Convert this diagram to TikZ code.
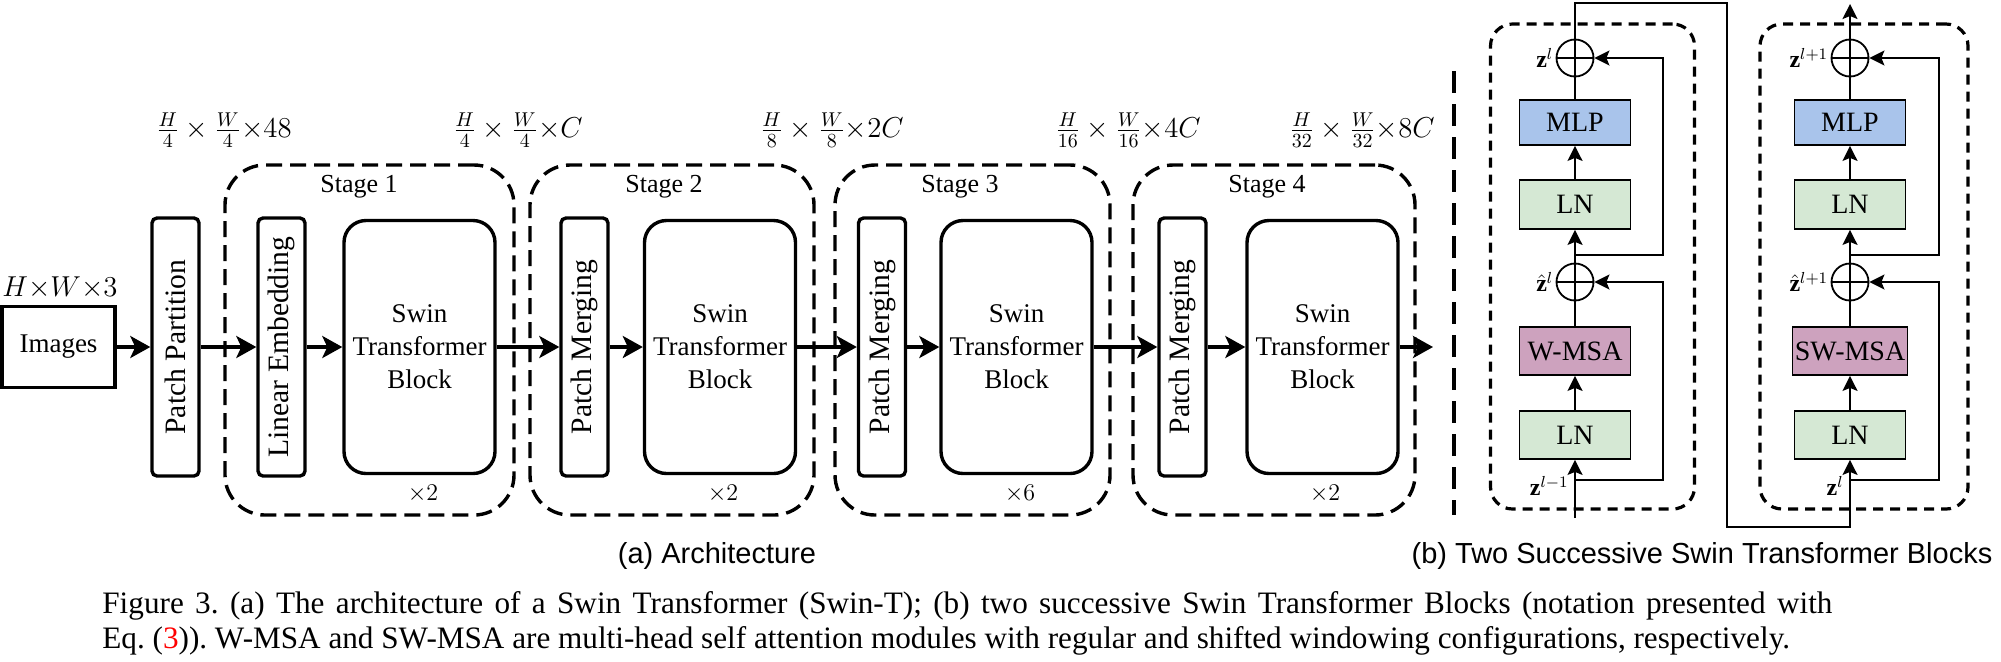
\documentclass[tikz,border=0pt]{standalone}
\usepackage{amsmath}
\usepackage{fontspec}
\setmainfont{Liberation Serif}
\newfontfamily\subfont{Liberation Sans}
\usetikzlibrary{arrows.meta}
\definecolor{mlpblue}{HTML}{A9C4EB}
\definecolor{lngreen}{HTML}{D5E8D4}
\definecolor{msapurple}{HTML}{CDA2BE}

\begin{document}
\frenchspacing
\begin{tikzpicture}[x=0.5pt, y=-0.5pt,
  box/.style={draw, line width=1.7pt, inner sep=0pt, font=\fontsize{13.5}{16.5}\selectfont},
  slim/.style={box, font=\fontsize{14.8}{17}\selectfont, rounded corners=2.5pt, rotate=90, minimum width=129pt, minimum height=23.5pt},
  swin/.style={box, rounded corners=11pt, align=center, minimum width=75.5pt, minimum height=126.5pt},
  stage/.style={draw, line width=1.7pt, dash pattern=on 8pt off 4pt, rounded corners=20pt, minimum height=175pt},
  big arrow/.style={line width=1.7pt, -{Stealth[length=10pt, width=11pt, inset=2.5pt]}},
  dims/.style={font=\fontsize{14}{16}\selectfont},
  op/.style={draw, line width=0.9pt, inner sep=0pt, minimum width=55.5pt, minimum height=24pt, font=\fontsize{14}{16}\selectfont},
  sumnode/.style={circle, draw, line width=0.9pt, minimum size=18.5pt, inner sep=0pt,
    path picture={\draw[line width=0.9pt] (path picture bounding box.north) -- (path picture bounding box.south)
      (path picture bounding box.west) -- (path picture bounding box.east);}},
  flow/.style={line width=0.9pt, -{Stealth[length=7.5pt, width=7.5pt, inset=1.5pt]}},
  wire/.style={line width=0.9pt},
  blockbox/.style={draw, line width=1.6pt, dash pattern=on 5pt off 3.5pt, rounded corners=11pt, minimum height=242.5pt},
  zlbl/.style={font=\fontsize{12}{14}\selectfont, inner sep=1pt},
  subcap/.style={font=\subfont\fontsize{14.5}{17}\selectfont, inner sep=0pt},
  captxt/.style={font=\fontsize{15.6}{17.5}\selectfont, inner sep=0pt, anchor=base west}]
\useasboundingbox (0,0) rectangle (2001,661);

% (a) architecture
\node[stage, minimum width=144.5pt] (st1) at (369.5,340) {};
\node[stage, minimum width=142pt] (st2) at (672,340) {};
\node[stage, minimum width=137.5pt] (st3) at (972.5,340) {};
\node[stage, minimum width=141pt] (st4) at (1274,340) {};
\node[font=\fontsize{13}{15}\selectfont] (stg1) at (359,187) {Stage 1};
\node[font=\fontsize{13}{15}\selectfont] (stg2) at (664,187) {Stage 2};
\node[font=\fontsize{13}{15}\selectfont] (stg3) at (960,187) {Stage 3};
\node[font=\fontsize{13}{15}\selectfont] (stg4) at (1267,187) {Stage 4};

\node[box, minimum width=56.5pt, minimum height=40.5pt] (img) at (58.5,347) {Images};
\node[font=\fontsize{13.5}{16}\selectfont] (din) at (60,288) {$H{\times}W{\times}3$};
\node[slim] (pp) at (175.5,347) {Patch Partition};
\node[slim] (le) at (281.5,347) {Linear Embedding};
\node[swin] (stb1) at (419.5,347) {Swin\\Transformer\\Block};
\node[slim] (pm2) at (584.5,347) {Patch Merging};
\node[swin] (stb2) at (720,347) {Swin\\Transformer\\Block};
\node[slim] (pm3) at (882,347) {Patch Merging};
\node[swin] (stb3) at (1016.5,347) {Swin\\Transformer\\Block};
\node[slim] (pm4) at (1182.5,347) {Patch Merging};
\node[swin] (stb4) at (1322.5,347) {Swin\\Transformer\\Block};
\coordinate (out) at (1433,347);

\draw[big arrow] (img) -- (pp);
\draw[big arrow] (pp) -- (le);
\draw[big arrow] (le) -- (stb1);
\draw[big arrow] (stb1) -- (pm2);
\draw[big arrow] (pm2) -- (stb2);
\draw[big arrow] (stb2) -- (pm3);
\draw[big arrow] (pm3) -- (stb3);
\draw[big arrow] (stb3) -- (pm4);
\draw[big arrow] (pm4) -- (stb4);
\draw[big arrow] (stb4) -- (out);

\node[font=\fontsize{13}{15}\selectfont] (rep1) at (423,494) {$\times 2$};
\node[font=\fontsize{13}{15}\selectfont] (rep2) at (723,494) {$\times 2$};
\node[font=\fontsize{13}{15}\selectfont] (rep3) at (1020,494) {$\times 6$};
\node[font=\fontsize{13}{15}\selectfont] (rep4) at (1325,494) {$\times 2$};

\node[dims] (dim1) at (224,130) {$\frac{H}{4}\times\frac{W}{4}{\times}48$};
\node[dims] (dim2) at (518,130) {$\frac{H}{4}\times\frac{W}{4}{\times}C$};
\node[dims] (dim3) at (832,130) {$\frac{H}{8}\times\frac{W}{8}{\times}2C$};
\node[dims] (dim4) at (1128,130) {$\frac{H}{16}\times\frac{W}{16}{\times}4C$};
\node[dims] (dim5) at (1362,130) {$\frac{H}{32}\times\frac{W}{32}{\times}8C$};

\draw[line width=2.2pt, dash pattern=on 11pt off 5.5pt] (1454,71) -- (1454,515);

% (b) two blocks
\node[blockbox, minimum width=102pt] (blkA) at (1592.5,266.5) {};
\node[blockbox, minimum width=104pt] (blkB) at (1864,266.5) {};

\node[op, fill=lngreen] (lnA1) at (1575,435) {LN};
\node[op, fill=msapurple] (wmsa) at (1575,351) {W-MSA};
\node[sumnode] (addA1) at (1575,282) {};
\node[op, fill=lngreen, minimum height=24.5pt] (lnA2) at (1575,204.5) {LN};
\node[op, fill=mlpblue, minimum height=22.5pt] (mlpA) at (1575,122.5) {MLP};
\node[sumnode] (addA2) at (1575,58) {};

\node[op, fill=lngreen] (lnB1) at (1850,435) {LN};
\node[op, fill=msapurple, minimum width=57.5pt] (swmsa) at (1850,351) {SW-MSA};
\node[sumnode] (addB1) at (1850,282) {};
\node[op, fill=lngreen, minimum height=24.5pt] (lnB2) at (1850,204.5) {LN};
\node[op, fill=mlpblue, minimum height=22.5pt] (mlpB) at (1850,122.5) {MLP};
\node[sumnode] (addB2) at (1850,58) {};

\coordinate (inA) at (1575,518);
\coordinate (skA1) at (1575,480);
\coordinate (skA2) at (1575,255);
\coordinate (topA) at (1575,3);
\coordinate (skB1) at (1850,480);
\coordinate (skB2) at (1850,255);
\coordinate (outB) at (1850,4);

\draw[flow] (inA) -- (lnA1);
\draw[flow] (lnA1) -- (wmsa);
\draw[wire] (wmsa) -- (addA1);
\draw[flow] (addA1) -- (lnA2);
\draw[flow] (lnA2) -- (mlpA);
\draw[wire] (mlpA) -- (addA2);
\draw[flow] (skA1) -- ++(88,0) |- (addA1);
\draw[flow] (skA2) -- ++(88,0) |- (addA2);
\draw[flow] (addA2) -- (topA) -| (1727,527) -| (lnB1);

\draw[flow] (lnB1) -- (swmsa);
\draw[wire] (swmsa) -- (addB1);
\draw[flow] (addB1) -- (lnB2);
\draw[flow] (lnB2) -- (mlpB);
\draw[wire] (mlpB) -- (addB2);
\draw[flow] (skB1) -- ++(89,0) |- (addB1);
\draw[flow] (skB2) -- ++(89,0) |- (addB2);
\draw[flow] (addB2) -- (outB);

\node[zlbl, anchor=east] (zA2) at (addA2.west) {$\mathbf{z}^{l}$};
\node[zlbl, anchor=east] (zhA) at (addA1.west) {$\hat{\mathbf{z}}^{l}$};
\node[zlbl, anchor=east] (zA0) at (1571,486) {$\mathbf{z}^{l-1}$};
\node[zlbl, anchor=east] (zB2) at (addB2.west) {$\mathbf{z}^{l+1}$};
\node[zlbl, anchor=east] (zhB) at (addB1.west) {$\hat{\mathbf{z}}^{l+1}$};
\node[zlbl, anchor=east] (zB0) at (1846,486) {$\mathbf{z}^{l}$};

% captions
\node[subcap, anchor=base] (capa) at (717,563) {(a) Architecture};
\node[subcap, anchor=base] (capb) at (1702,563) {(b) Two Successive Swin Transformer Blocks};
\node[captxt] (cap1) at (102,613) {\makebox[865pt][s]{Figure 3. (a) The architecture of a Swin Transformer (Swin-T); (b) two successive Swin Transformer Blocks (notation presented with}};
\node[captxt] (cap2) at (102,648) {Eq.~(\textcolor{red}{3})). W-MSA and SW-MSA are multi-head self attention modules with regular and shifted windowing configurations, respectively.};
\end{tikzpicture}
\end{document}
